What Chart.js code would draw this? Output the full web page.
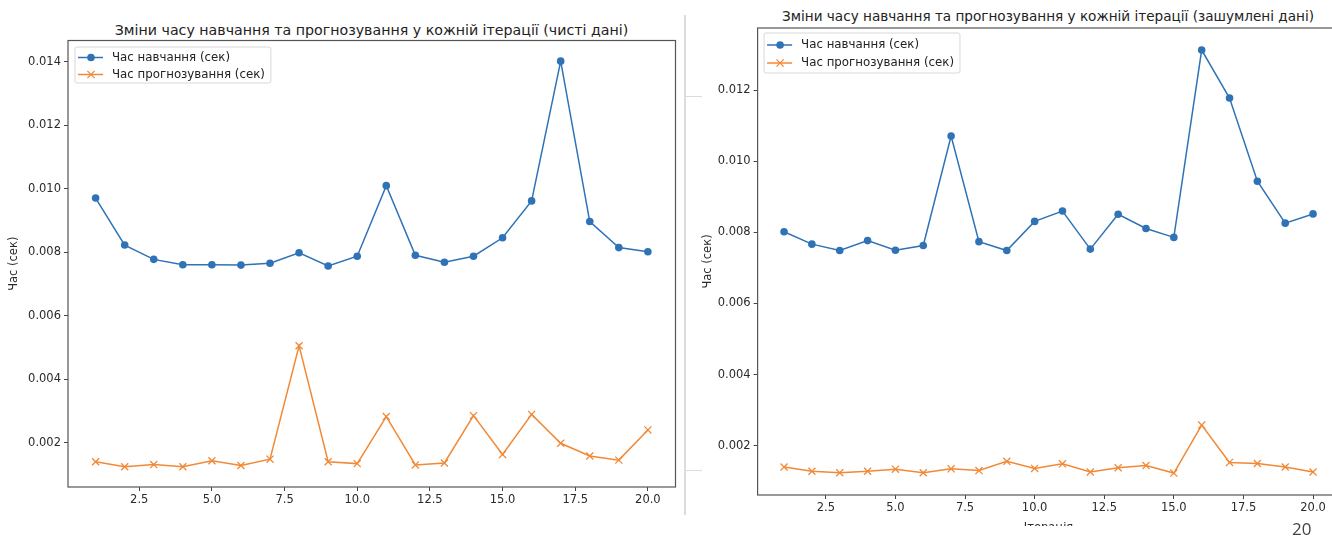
<!DOCTYPE html>
<html lang="uk">
<head>
<meta charset="utf-8">
<title>Зміни часу навчання та прогнозування у кожній ітерації</title>
<script src="https://cdn.jsdelivr.net/npm/chart.js@4.4.1/dist/chart.umd.min.js"></script>
<style>
    body {
        margin: 0;
        width: 1332px;
        height: 538px;
        overflow: hidden;
        position: relative;
        background: #fff;
        font-family: "DejaVu Sans", sans-serif;
    }
    .wrap { position: absolute; top: 0; overflow: hidden; }
    .title {
        position: absolute;
        font-size: 14.2px;
        line-height: 1;
        color: #222;
        white-space: nowrap;
        transform: translate(-50%, -50%);
    }
    .sep { position: absolute; background: #dcdcdc; }
    .page-num {
        position: absolute;
        left: 1292px;
        top: 519px;
        font-family: "Open Sans", sans-serif;
        font-size: 17px;
        line-height: 20px;
        color: #444;
    }
</style>
</head>
<body>

<div class="title" style="left:371.5px; top:30px;">Зміни часу навчання та прогнозування у кожній ітерації (чисті дані)</div>
<div class="title" style="left:1048px; top:17px; font-size:13.6px;">Зміни часу навчання та прогнозування у кожній ітерації (зашумлені дані)</div>

<div class="wrap" style="left:0; width:684px; height:514px;">
    <canvas id="clean-chart" width="684" height="528"></canvas>
</div>
<div class="wrap" style="left:690px; width:642px; height:526px;">
    <canvas id="noisy-chart" width="660" height="536"></canvas>
</div>

<div class="sep" style="left:684px; top:15px; width:2px; height:500px;"></div>
<div class="sep" style="left:685px; top:96px; width:17px; height:1px;"></div>
<div class="sep" style="left:685px; top:470px; width:17px; height:1px;"></div>

<div class="page-num">20</div>

<script>
const BLUE = '#2f73b6';
const ORANGE = '#f28936';

const iterations = [1, 2, 3, 4, 5, 6, 7, 8, 9, 10, 11, 12, 13, 14, 15, 16, 17, 18, 19, 20];
const seriesLabels = ['Час навчання (сек)', 'Час прогнозування (сек)'];

// чисті дані
const cleanTrain = [0.00971, 0.00823, 0.00778, 0.00761, 0.00761, 0.00760, 0.00766, 0.00799, 0.00757, 0.00788,
                    0.01010, 0.00791, 0.00769, 0.00788, 0.00846, 0.00962, 0.01402, 0.00897, 0.00815, 0.00802];
const cleanPredict = [0.00141, 0.00125, 0.00132, 0.00125, 0.00144, 0.00129, 0.00149, 0.00506, 0.00141, 0.00135,
                      0.00283, 0.00131, 0.00137, 0.00286, 0.00164, 0.00290, 0.00199, 0.00159, 0.00146, 0.00241];

// зашумлені дані
const noisyTrain = [0.00802, 0.00767, 0.00749, 0.00777, 0.00750, 0.00763, 0.01071, 0.00774, 0.00749, 0.00831,
                    0.00860, 0.00753, 0.00851, 0.00811, 0.00786, 0.01313, 0.01178, 0.00944, 0.00826, 0.00852];
const noisyPredict = [0.00140, 0.00128, 0.00124, 0.00128, 0.00134, 0.00124, 0.00135, 0.00130, 0.00156, 0.00136,
                      0.00149, 0.00126, 0.00138, 0.00144, 0.00123, 0.00258, 0.00153, 0.00150, 0.00140, 0.00126];

const xTickValues = [2.5, 5, 7.5, 10, 12.5, 15, 17.5, 20];
const cleanYTicks = [0.002, 0.004, 0.006, 0.008, 0.010, 0.012, 0.014];
const noisyYTicks = [0.002, 0.004, 0.006, 0.008, 0.010, 0.012];

Chart.defaults.font.family = '"DejaVu Sans", sans-serif';
Chart.defaults.font.size = 11.5;
Chart.defaults.color = '#2a2a2a';

// рамка навколо області графіка (як у matplotlib)
const axesFrame = {
    id: 'axesFrame',
    afterDatasetsDraw(chart) {
        const { ctx, chartArea: a } = chart;
        ctx.save();
        ctx.strokeStyle = '#555';
        ctx.lineWidth = 1.2;
        ctx.strokeRect(a.left, a.top, a.right - a.left, a.bottom - a.top);
        ctx.restore();
    }
};

// легенда з лінією та маркером всередині області графіка
const boxLegend = {
    id: 'boxLegend',
    afterDraw(chart, args, opts) {
        const { ctx, chartArea: a } = chart;
        const x0 = a.left + opts.dx;
        const y0 = a.top + opts.dy;
        ctx.save();
        ctx.font = '11.8px "DejaVu Sans"';
        const textW = Math.max(...chart.data.datasets.map(ds => ctx.measureText(ds.label).width));
        const w = 37 + textW + 6;
        const h = opts.rowStep + 2 * opts.rowTop - 2;

        ctx.beginPath();
        ctx.roundRect(x0, y0, w, h, 2);
        ctx.fillStyle = 'rgba(255,255,255,0.85)';
        ctx.fill();
        ctx.strokeStyle = '#d8d8d8';
        ctx.lineWidth = 1;
        ctx.stroke();

        chart.data.datasets.forEach((ds, i) => {
            const cy = y0 + opts.rowTop + i * opts.rowStep;
            const mx = x0 + 16;
            ctx.strokeStyle = ds.borderColor;
            ctx.lineWidth = 1.5;
            ctx.beginPath();
            ctx.moveTo(x0 + 3, cy);
            ctx.lineTo(x0 + 28, cy);
            ctx.stroke();
            if (ds.pointStyle === 'circle') {
                ctx.fillStyle = ds.borderColor;
                ctx.beginPath();
                ctx.arc(mx, cy, 3.8, 0, Math.PI * 2);
                ctx.fill();
            } else {
                ctx.lineWidth = 1.3;
                ctx.beginPath();
                ctx.moveTo(mx - 3.6, cy - 3.6);
                ctx.lineTo(mx + 3.6, cy + 3.6);
                ctx.moveTo(mx - 3.6, cy + 3.6);
                ctx.lineTo(mx + 3.6, cy - 3.6);
                ctx.stroke();
            }
            ctx.fillStyle = '#222';
            ctx.textBaseline = 'middle';
            ctx.fillText(ds.label, x0 + 37, cy);
        });
        ctx.restore();
    }
};

function toPoints(values) {
    return iterations.map((x, i) => ({ x, y: values[i] }));
}

function makeChart(id, train, predict, yMin, yMax, yTicks, lay) {
    return new Chart(document.getElementById(id), {
        type: 'line',
        data: {
            datasets: [{
                label: seriesLabels[0],
                data: toPoints(train),
                borderColor: BLUE,
                backgroundColor: BLUE,
                borderWidth: 1.5,
                pointStyle: 'circle',
                pointRadius: 3.8,
                pointBorderWidth: 0,
                tension: 0
            }, {
                label: seriesLabels[1],
                data: toPoints(predict),
                borderColor: ORANGE,
                backgroundColor: ORANGE,
                borderWidth: 1.5,
                pointStyle: 'crossRot',
                pointRadius: 5,
                pointBorderWidth: 1.3,
                tension: 0
            }]
        },
        options: {
            responsive: false,
            animation: false,
            events: [],
            layout: { padding: { top: lay.padTop, right: lay.padRight, left: 0, bottom: 0 } },
            plugins: {
                legend: { display: false },
                tooltip: { enabled: false },
                boxLegend: lay.legend
            },
            scales: {
                x: {
                    type: 'linear',
                    min: 0.05,
                    max: 20.95,
                    afterBuildTicks: s => { s.ticks = xTickValues.map(v => ({ value: v })); },
                    afterFit: s => { s.height = 41; },
                    ticks: { callback: v => v.toFixed(1), maxRotation: 0, padding: 2 },
                    grid: { drawOnChartArea: false, tickLength: 4, color: '#444' },
                    border: { display: false },
                    title: { display: true, text: 'Ітерація', padding: { top: 0, bottom: lay.xTitlePad } }
                },
                y: {
                    min: yMin,
                    max: yMax,
                    afterBuildTicks: s => { s.ticks = yTicks.map(v => ({ value: v })); },
                    afterFit: s => { s.width = lay.yWidth; },
                    ticks: { callback: v => v.toFixed(3), padding: 3 },
                    grid: { drawOnChartArea: false, tickLength: 4, color: '#444' },
                    border: { display: false },
                    title: { display: true, text: 'Час (сек)', padding: { top: lay.yTitlePad, bottom: 0 } }
                }
            }
        },
        plugins: [axesFrame, boxLegend]
    });
}

makeChart('clean-chart', cleanTrain, cleanPredict, 0.000614, 0.01467, cleanYTicks, {
    padTop: 40.5, padRight: 8.5, yWidth: 68, yTitlePad: 7.2, xTitlePad: 0,
    legend: { dx: 7, dy: 6.5, rowTop: 10.5, rowStep: 17 }
});

makeChart('noisy-chart', noisyTrain, noisyPredict, 0.000613, 0.01375, noisyYTicks, {
    padTop: 28, padRight: 10.5, yWidth: 67.6, yTitlePad: 11, xTitlePad: 1.5,
    legend: { dx: 6.5, dy: 5, rowTop: 12, rowStep: 18 }
});
</script>
</body>
</html>
